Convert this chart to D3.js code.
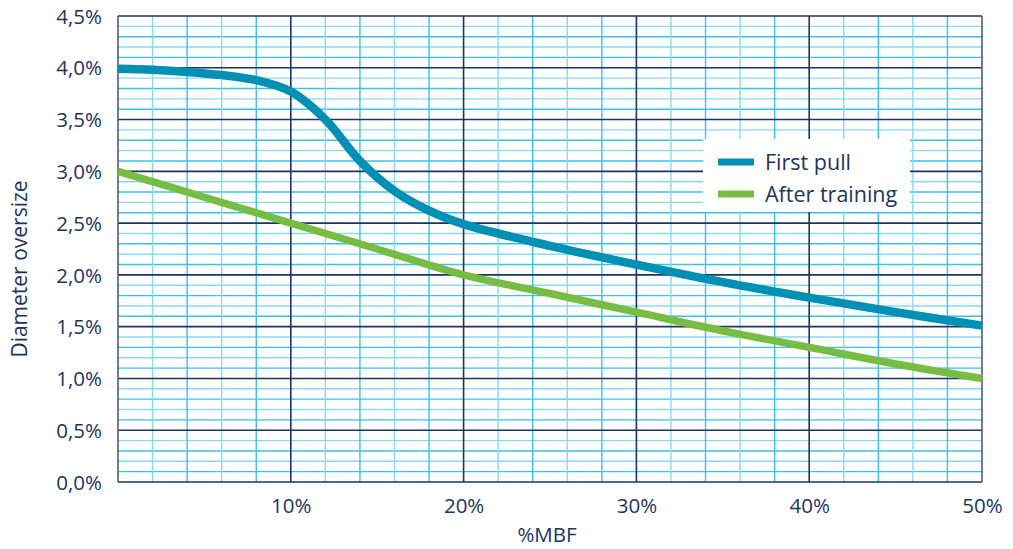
<!DOCTYPE html>
<html>
<head>
<meta charset="utf-8">
<script src="https://cdn.jsdelivr.net/npm/d3@7"></script>
<style>
  body { margin: 0; background: #fff; }
  text { font-family: "Open Sans", "Noto Sans", sans-serif; fill: #1d3461; }
</style>
</head>
<body>
<div id="chart"></div>
<script>
// values (x = %MBF, y = diameter oversize in %)
var mbf = [0, 2, 4, 6, 8, 10, 12, 14, 16, 18, 20, 25, 30, 35, 40, 45, 50];
var firstPull = [3.99, 3.98, 3.96, 3.93, 3.88, 3.77, 3.50, 3.10, 2.81, 2.62, 2.49, 2.28, 2.10, 1.93, 1.78, 1.64, 1.51];

var mbfTrain = [0, 5, 10, 15, 20, 25, 30, 35, 40, 45, 50];
var afterTraining = [3.00, 2.75, 2.50, 2.25, 2.00, 1.82, 1.64, 1.46, 1.30, 1.14, 1.00];

var xTicks = [10, 20, 30, 40, 50];
var yTicks = [0, 0.5, 1, 1.5, 2, 2.5, 3, 3.5, 4, 4.5];
var seriesNames = ["First pull", "After training"];
var seriesColors = ["#0090b4", "#78bd43"];

// margins for the plot
var margin = {top: 16, right: 31, bottom: 67, left: 118},
    width = 1013 - margin.left - margin.right,
    height = 549 - margin.top - margin.bottom;

var svg = d3.select("#chart")
  .append("svg")
    .attr("width", 1013)
    .attr("height", 549)
  .append("g")
    .attr("transform", "translate(" + margin.left + "," + margin.top + ")");

var x = d3.scaleLinear().domain([0, 50]).range([0, width]);
var y = d3.scaleLinear().domain([0, 4.5]).range([height, 0]);

// minor grid (2% steps on x, 0.1% steps on y)
var xMinor = d3.range(0, 51, 2).filter(function(d) { return d % 10 !== 0; });
var yMinor = d3.range(0, 46).map(function(d) { return d / 10; }).filter(function(d, i) { return i % 5 !== 0; });

svg.selectAll(".hminor")
  .data(yMinor)
  .enter().append("line")
    .attr("x1", 0).attr("x2", width)
    .attr("y1", function(d) { return y(d); })
    .attr("y2", function(d) { return y(d); })
    .attr("stroke", function(d, i) { return i % 2 ? "#8ad9f4" : "#38c2ee"; })
    .attr("stroke-width", 1.4);

svg.selectAll(".vminor")
  .data(xMinor)
  .enter().append("line")
    .attr("y1", 0).attr("y2", height)
    .attr("x1", function(d) { return x(d); })
    .attr("x2", function(d) { return x(d); })
    .attr("stroke", function(d, i) { return i % 2 ? "#38c2ee" : "#8ad9f4"; })
    .attr("stroke-width", 1.4);

// major grid
svg.selectAll(".hmajor")
  .data(yTicks)
  .enter().append("line")
    .attr("x1", 0).attr("x2", width)
    .attr("y1", function(d) { return y(d); })
    .attr("y2", function(d) { return y(d); })
    .attr("stroke", "#1c3560")
    .attr("stroke-width", 1.6);

svg.selectAll(".vmajor")
  .data([0].concat(xTicks))
  .enter().append("line")
    .attr("y1", 0).attr("y2", height)
    .attr("x1", function(d) { return x(d); })
    .attr("x2", function(d) { return x(d); })
    .attr("stroke", function(d) { return (d === 0 || d === 50) ? "#4a5c7c" : "#1c3560"; })
    .attr("stroke-width", 1.6);

// axes, labels only
var xAxis = svg.append("g")
    .attr("transform", "translate(0," + height + ")")
    .call(d3.axisBottom(x).tickValues(xTicks).tickSize(0).tickPadding(16)
      .tickFormat(function(d) { return d + "%"; }));

var yAxis = svg.append("g")
    .call(d3.axisLeft(y).tickValues(yTicks).tickSize(0).tickPadding(16)
      .tickFormat(function(d) { return d3.format(".1f")(d).replace(".", ",") + "%"; }));

[xAxis, yAxis].forEach(function(a) {
  a.select(".domain").remove();
  a.selectAll("text")
    .style("font-size", "20.5px")
    .style("font-family", "'Open Sans', 'Noto Sans', sans-serif")
    .attr("fill", "#1d3461");
});
yAxis.selectAll("text").attr("dy", "0.35em");

// lines
var line = d3.line()
  .x(function(d) { return x(d[0]); })
  .y(function(d) { return y(d[1]); })
  .curve(d3.curveCatmullRom.alpha(0.5));

svg.append("path")
  .datum(mbfTrain.map(function(v, i) { return [v, afterTraining[i]]; }))
  .attr("fill", "none")
  .attr("stroke", seriesColors[1])
  .attr("stroke-width", 7.5)
  .attr("d", line);

svg.append("path")
  .datum(mbf.map(function(v, i) { return [v, firstPull[i]]; }))
  .attr("fill", "none")
  .attr("stroke", seriesColors[0])
  .attr("stroke-width", 8.5)
  .attr("d", line);

// axis titles
svg.append("text")
  .attr("text-anchor", "middle")
  .attr("x", width / 2 - 3)
  .attr("y", height + 60)
  .style("font-size", "20.5px")
  .text("%MBF");

svg.append("text")
  .attr("text-anchor", "middle")
  .attr("transform", "translate(" + (-91) + "," + (height / 2 + 20) + ") rotate(-90)")
  .style("font-size", "21px")
  .text("Diameter oversize");

// legend
var legend = svg.append("g")
  .attr("transform", "translate(" + (703 - margin.left) + "," + (139 - margin.top) + ")");

legend.append("rect")
  .attr("width", 207)
  .attr("height", 73)
  .attr("fill", "#fff");

seriesNames.forEach(function(name, i) {
  legend.append("line")
    .attr("x1", 15).attr("x2", 51)
    .attr("y1", 23 + i * 32).attr("y2", 23 + i * 32)
    .attr("stroke", seriesColors[i])
    .attr("stroke-width", 7);
  legend.append("text")
    .attr("x", 62)
    .attr("y", 23 + i * 32)
    .attr("dy", "0.35em")
    .style("font-size", "21.5px")
    .text(name);
});
</script>
</body>
</html>
